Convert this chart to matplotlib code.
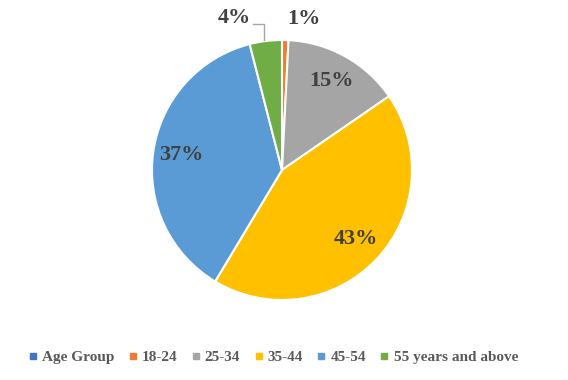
import numpy as np
import matplotlib.pyplot as plt
from matplotlib.lines import Line2D

categories = ['Age Group', '18-24', '25-34', '35-44', '45-54', '55 years and above']
values = [0.0, 0.8, 14.6, 43.2, 37.4, 4.0]
pct_labels = ['', '1%', '15%', '43%', '37%', '4%']
colors = ['#4472C4', '#ED7D31', '#A5A5A5', '#FFC000', '#5B9BD5', '#70AD47']

plt.rcParams['font.family'] = ['Liberation Serif', 'DejaVu Serif']

fig = plt.figure(figsize=(5.68, 3.8), dpi=100)
R = 130
cx, cy = 282, 170
ax = fig.add_axes([(cx - R) / 568, (380 - cy - R) / 380, 2 * R / 568, 2 * R / 380])

wedges, _ = ax.pie(values, colors=colors, startangle=90, counterclock=False,
                   wedgeprops=dict(edgecolor='white', linewidth=1.5))
ax.set_xlim(-1, 1)
ax.set_ylim(-1, 1)
ax.axis('off')

txt_color = '#404040'
for w, lab in zip(wedges, pct_labels):
    if lab in ('', '1%', '4%'):
        continue
    ang = np.deg2rad((w.theta1 + w.theta2) / 2)
    ax.text(0.78 * np.cos(ang), 0.78 * np.sin(ang), lab, ha='center', va='center',
            fontsize=16, fontweight='bold', color=txt_color)

# small slices labelled outside
ax.text(0.17, 1.16, '1%', ha='center', va='center', fontsize=16,
        fontweight='bold', color=txt_color, clip_on=False)
ax.text(-0.37, 1.17, '4%', ha='center', va='center', fontsize=16,
        fontweight='bold', color=txt_color, clip_on=False)
ax.plot([-0.14, -0.14, -0.22], [1.0, 1.12, 1.12], color='#A6A6A6', lw=1,
        clip_on=False)

handles = [Line2D([0], [0], marker='s', linestyle='none', markersize=5,
                  markerfacecolor=c, markeredgecolor=c) for c in colors]
fig.legend(handles, categories, loc='center',
           bbox_to_anchor=(0.5 - 11 / 568, 1 - 357 / 380),
           ncol=6, frameon=False, handlelength=0.6, handletextpad=0.3,
           columnspacing=0.9, prop=dict(size=11, weight='bold'),
           labelcolor='#595959')

fig.savefig('out.png', dpi=100)
